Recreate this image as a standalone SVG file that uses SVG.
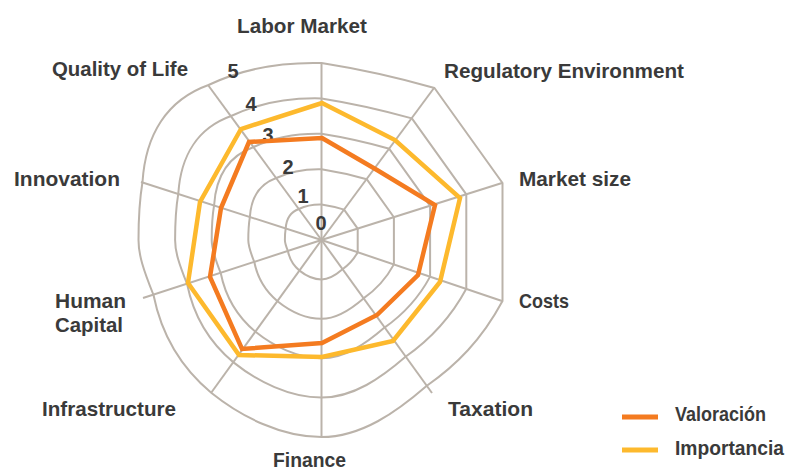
<svg xmlns="http://www.w3.org/2000/svg" xmlns:xlink="http://www.w3.org/1999/xlink" width="794" height="472" viewBox="0 0 794 472">
<style>
.grid{fill:none;stroke:#bbb3aa}
.axis{stroke:#bbb3aa;stroke-width:2;fill:none}
.lbl{font-family:"Liberation Sans Narrow","Liberation Sans",Arial,sans-serif;font-weight:bold;font-size:21px;fill:#3a3a3a}
.tick{font-family:"Liberation Sans",Arial,sans-serif;font-weight:bold;font-size:20px;fill:#3a3a3a;text-anchor:middle}
.s1{fill:none;stroke:#f47b20;stroke-width:4.5;stroke-linejoin:miter}
.s2{fill:none;stroke:#fdb92d;stroke-width:4.5;stroke-linejoin:miter}
</style>
<defs>
<path id="ring" d="M 0,-177 Q 57,-168 113,-152 L 181,-57 L 181,61 C 160,100 135,125 105,146 C 75,172 40,197 0,197 C -40,197 -80,177 -110,153 C -140,128 -160,95 -168,55 C -178,30 -183,15 -183,0 C -183,-20 -182,-40 -179,-58 C -176,-105 -155,-140 -113,-155 C -75,-173 -38,-178 0,-177 Z"/>
</defs>
<rect width="794" height="472" fill="#ffffff"/>
<g id="grid">
<use xlink:href="#ring" class="grid" stroke-width="10" transform="translate(321.5 240) scale(0.2)"/>
<use xlink:href="#ring" class="grid" stroke-width="5" transform="translate(321.5 240) scale(0.4)"/>
<use xlink:href="#ring" class="grid" stroke-width="3.333" transform="translate(321.5 240) scale(0.6)"/>
<use xlink:href="#ring" class="grid" stroke-width="2.5" transform="translate(321.5 240) scale(0.8)"/>
<use xlink:href="#ring" class="grid" stroke-width="2" transform="translate(321.5 240)"/>
</g>
<g id="axes">
<line class="axis" x1="321.5" y1="240" x2="321.5" y2="63"/>
<line class="axis" x1="321.5" y1="240" x2="434" y2="88"/>
<line class="axis" x1="321.5" y1="240" x2="502" y2="183"/>
<line class="axis" x1="321.5" y1="240" x2="502" y2="301"/>
<line class="axis" x1="321.5" y1="240" x2="432" y2="393"/>
<line class="axis" x1="321.5" y1="240" x2="321.5" y2="437"/>
<line class="axis" x1="321.5" y1="240" x2="211" y2="393"/>
<line class="axis" x1="321.5" y1="240" x2="143" y2="298"/>
<line class="axis" x1="321.5" y1="240" x2="141" y2="182"/>
<line class="axis" x1="321.5" y1="240" x2="208" y2="85"/>
</g>
<g id="ticks">
<text class="tick" x="233" y="78">5</text>
<text class="tick" x="251" y="110.5">4</text>
<text class="tick" x="268" y="141.5">3</text>
<text class="tick" x="288" y="174">2</text>
<text class="tick" x="303" y="203">1</text>
<text class="tick" x="321" y="230">0</text>
</g>
<g id="series-importancia">
<polygon class="s2" points="322,103 395,140 460,198 440,282 393,341 322,357 239,355 188,283 200,202 241,129"/>
</g>
<g id="series-valoracion">
<polygon class="s1" points="322,138 377,170 435,205 418,275 377,315 322,343 242,349 210,277 221,208 249,142"/>
</g>
<g id="labels">
<text class="lbl" x="237" y="33" textLength="130" lengthAdjust="spacingAndGlyphs">Labor Market</text>
<text class="lbl" x="52" y="76" textLength="136" lengthAdjust="spacingAndGlyphs">Quality of Life</text>
<text class="lbl" x="444" y="78" textLength="240" lengthAdjust="spacingAndGlyphs">Regulatory Environment</text>
<text class="lbl" x="519" y="186" textLength="112" lengthAdjust="spacingAndGlyphs">Market size</text>
<text class="lbl" x="519" y="308" textLength="50" lengthAdjust="spacingAndGlyphs">Costs</text>
<text class="lbl" x="448" y="416" textLength="85" lengthAdjust="spacingAndGlyphs">Taxation</text>
<text class="lbl" x="273" y="467" textLength="73" lengthAdjust="spacingAndGlyphs">Finance</text>
<text class="lbl" x="42" y="416" textLength="134" lengthAdjust="spacingAndGlyphs">Infrastructure</text>
<text class="lbl" x="55" y="308" textLength="71" lengthAdjust="spacingAndGlyphs">Human</text>
<text class="lbl" x="55" y="332" textLength="68" lengthAdjust="spacingAndGlyphs">Capital</text>
<text class="lbl" x="14" y="186" textLength="106" lengthAdjust="spacingAndGlyphs">Innovation</text>
</g>
<g id="legend">
<line x1="622" y1="417" x2="658" y2="417" stroke="#f47b20" stroke-width="5"/>
<text class="lbl" x="675" y="421" textLength="91" lengthAdjust="spacingAndGlyphs">Valoración</text>
<line x1="622" y1="450" x2="658" y2="450" stroke="#fdb92d" stroke-width="5"/>
<text class="lbl" x="675" y="455" textLength="109" lengthAdjust="spacingAndGlyphs">Importancia</text>
</g>
</svg>
